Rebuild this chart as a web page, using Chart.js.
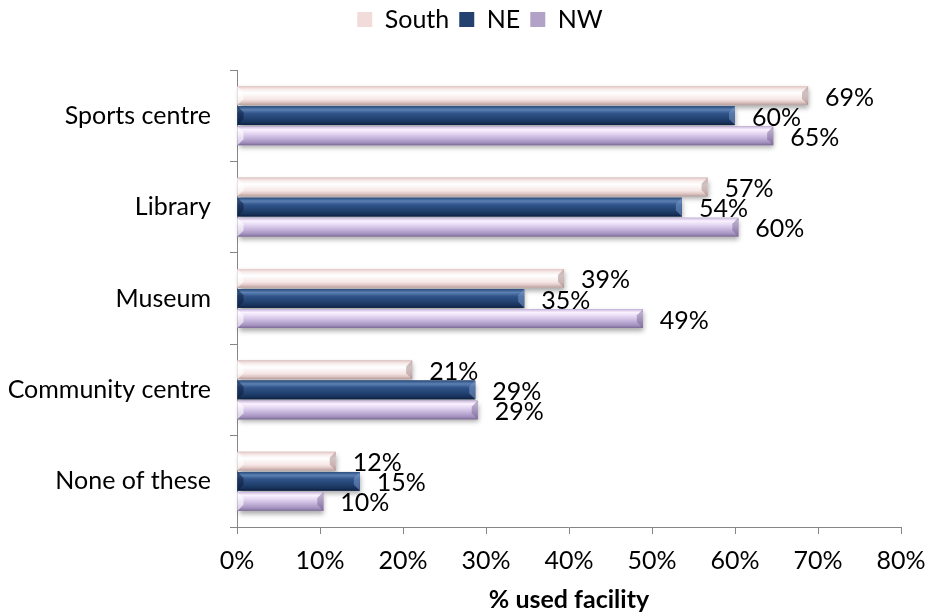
<!DOCTYPE html>
<html>
<head>
<meta charset="utf-8">
<script src="https://cdn.jsdelivr.net/npm/chart.js@4"></script>
<style>
  html, body { margin: 0; padding: 0; background: #fff; }
  #wrap { width: 926px; height: 616px; }
</style>
</head>
<body>
<div id="wrap"><canvas id="chart"></canvas></div>
<script>
const categories = ["Sports centre", "Library", "Museum", "Community centre", "None of these"];
const seriesNames = ["South", "NE", "NW"];
const southValues = [68.8, 56.7, 39.4, 21.1, 11.9];
const neValues = [60.0, 53.6, 34.6, 28.7, 14.8];
const nwValues = [64.6, 60.4, 48.9, 29.0, 10.4];
const xMin = 0;
const xMax = 80;
const xStep = 10;

const FONT = "Lato, 'Open Sans', sans-serif";
const axisGrey = "#868686";

// shading for the bevelled bar look, top to bottom
const styles = [
  {
    base: "#f2dcdb",
    stops: [[0, "#e3c7c5"], [0.15, "#f6e9e8"], [0.35, "#ffffff"], [0.7, "#f5e6e5"], [0.86, "#e0c6c4"], [1, "#b49e9c"]],
    endCol: "rgba(150,120,118,0.45)",
    startCol: "rgba(255,255,255,0.6)"
  },
  {
    base: "#23426f",
    stops: [[0, "#2b4d7e"], [0.18, "#5b80b2"], [0.38, "#30548a"], [0.72, "#1f3e6b"], [0.88, "#17315a"], [1, "#0e1f3d"]],
    endCol: "rgba(120,150,200,0.55)",
    startCol: "rgba(10,25,55,0.5)"
  },
  {
    base: "#b3a2c7",
    stops: [[0, "#cbb9e0"], [0.17, "#faf2ff"], [0.38, "#e4d6f2"], [0.7, "#baa8d2"], [0.87, "#a28fbd"], [1, "#7b6995"]],
    endCol: "rgba(110,90,140,0.45)",
    startCol: "rgba(255,255,255,0.6)"
  }
];

function eachBar(chart, fn) {
  chart.data.datasets.forEach((ds, di) => {
    const meta = chart.getDatasetMeta(di);
    if (meta.hidden) return;
    meta.data.forEach((bar, i) => {
      const p = bar.getProps(["x", "y", "base", "height"], true);
      fn(p, di, i, ds);
    });
  });
}

// extra room under the legend, and nudge it right a little
const legendGap = {
  id: "legendGap",
  beforeInit(chart) {
    const fit = chart.legend.fit;
    chart.legend.fit = function () {
      fit.bind(chart.legend)();
      this.height += 28;
    };
  },
  afterLayout(chart) {
    chart.legend.left += 18;
    chart.legend.right += 18;
  }
};

const bevelBars = {
  id: "bevelBars",
  beforeDatasetsDraw(chart) {
    const ctx = chart.ctx;
    ctx.save();
    ctx.shadowColor = "rgba(0,0,0,0.35)";
    ctx.shadowBlur = 5;
    ctx.shadowOffsetX = 1;
    ctx.shadowOffsetY = 3;
    ctx.fillStyle = "#999";
    eachBar(chart, p => {
      const t = p.y - p.height / 2;
      ctx.fillRect(p.base, t, p.x - p.base, p.height);
    });
    ctx.restore();
  },
  afterDatasetsDraw(chart) {
    const ctx = chart.ctx;
    ctx.save();
    eachBar(chart, (p, di) => {
      const st = styles[di];
      const t = p.y - p.height / 2;
      const b = p.y + p.height / 2;
      const g = ctx.createLinearGradient(0, t, 0, b);
      st.stops.forEach(s => g.addColorStop(s[0], s[1]));
      ctx.fillStyle = g;
      ctx.fillRect(p.base, t, p.x - p.base, p.height);
      const e = Math.min(6, p.height / 3, (p.x - p.base) / 2);
      // right end facet
      ctx.fillStyle = st.endCol;
      ctx.beginPath();
      ctx.moveTo(p.x, t);
      ctx.lineTo(p.x, b);
      ctx.lineTo(p.x - e, b - e);
      ctx.lineTo(p.x - e, t + e);
      ctx.closePath();
      ctx.fill();
      // left end facet
      ctx.fillStyle = st.startCol;
      ctx.beginPath();
      ctx.moveTo(p.base, t);
      ctx.lineTo(p.base, b);
      ctx.lineTo(p.base + e, b - e);
      ctx.lineTo(p.base + e, t + e);
      ctx.closePath();
      ctx.fill();
    });

    // value labels
    ctx.fillStyle = "#000";
    ctx.font = "25px " + FONT;
    ctx.textAlign = "left";
    ctx.textBaseline = "middle";
    eachBar(chart, (p, di, i, ds) => {
      ctx.fillText(Math.round(ds.data[i]) + "%", p.x + 17, p.y + 2);
    });
    ctx.restore();
  }
};

new Chart(document.getElementById("chart"), {
  type: "bar",
  data: {
    labels: categories,
    datasets: [
      { label: seriesNames[0], data: southValues, backgroundColor: styles[0].base, borderWidth: 0 },
      { label: seriesNames[1], data: neValues, backgroundColor: styles[1].base, borderWidth: 0 },
      { label: seriesNames[2], data: nwValues, backgroundColor: styles[2].base, borderWidth: 0 }
    ]
  },
  plugins: [legendGap, bevelBars],
  options: {
    indexAxis: "y",
    responsive: true,
    maintainAspectRatio: false,
    animation: false,
    categoryPercentage: 0.66,
    barPercentage: 0.93,
    layout: {
      padding: { top: -3, left: 0, right: 2, bottom: 0 }
    },
    plugins: {
      tooltip: { enabled: false },
      legend: {
        position: "top",
        labels: {
          color: "#000",
          font: { family: FONT, size: 25 },
          boxWidth: 15,
          boxHeight: 15,
          padding: 10
        }
      }
    },
    scales: {
      x: {
        min: xMin,
        max: xMax,
        afterFit(scale) {
          scale.height = 89;
          scale.paddingRight = 25;
        },
        border: { display: true, color: axisGrey, width: 1 },
        grid: {
          drawOnChartArea: false,
          drawTicks: true,
          tickLength: 7,
          tickColor: axisGrey
        },
        ticks: {
          stepSize: xStep,
          color: "#000",
          padding: 12,
          font: { family: FONT, size: 25 },
          callback: v => v + "%"
        },
        title: {
          display: true,
          text: "% used facility",
          color: "#000",
          font: { family: FONT, size: 25, weight: "bold" },
          padding: { top: 0, bottom: 1 }
        }
      },
      y: {
        afterFit(scale) { scale.width = 237; },
        border: { display: true, color: axisGrey, width: 1 },
        grid: {
          offset: true,
          drawOnChartArea: false,
          drawTicks: true,
          tickLength: 7,
          tickColor: axisGrey
        },
        ticks: {
          color: "#000",
          padding: 19,
          font: { family: FONT, size: 25 }
        }
      }
    }
  }
});
</script>
</body>
</html>
